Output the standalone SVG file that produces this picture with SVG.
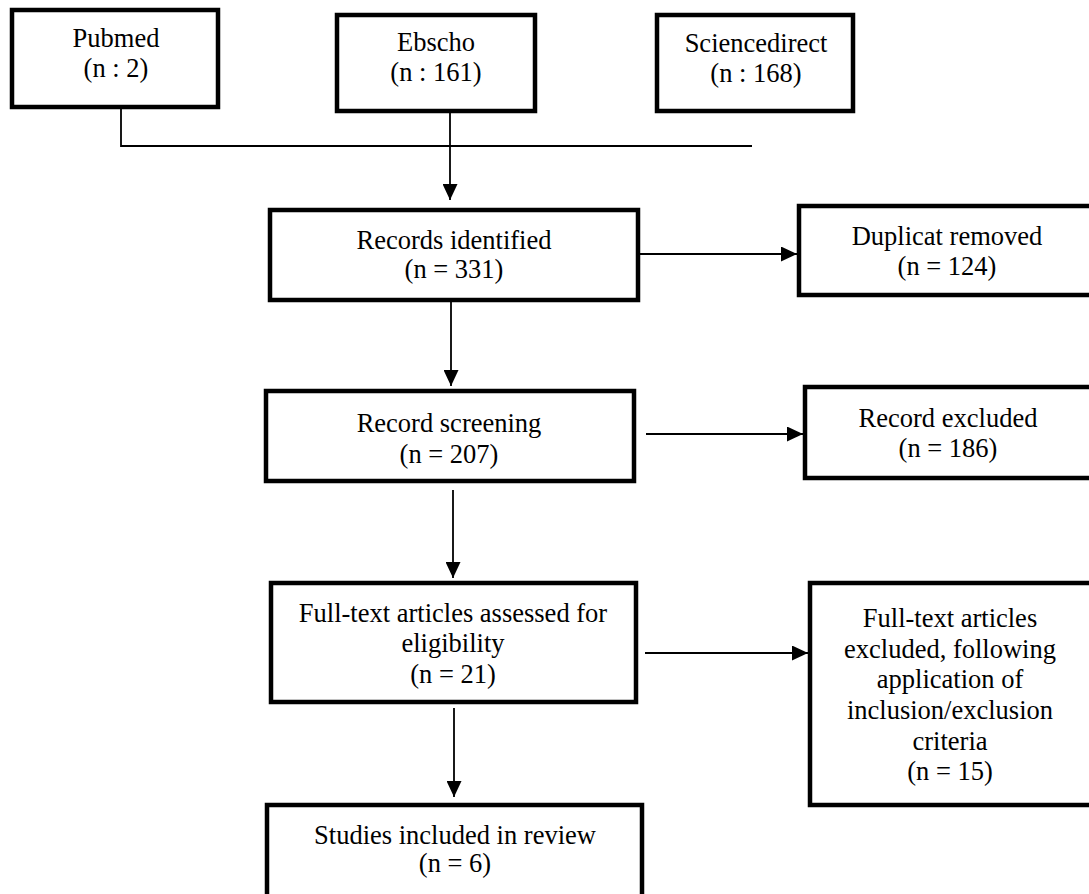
<svg xmlns="http://www.w3.org/2000/svg" width="1089" height="894" viewBox="0 0 1089 894">
<style>
.box{fill:#fff;stroke:#000;stroke-width:4.5}
.t{font-family:"Liberation Serif","Times New Roman",serif;font-size:26.5px;fill:#000;text-anchor:middle}
.ln{fill:none;stroke:#000;stroke-width:1.8}
</style>
<defs>
<marker id="ah" markerUnits="userSpaceOnUse" markerWidth="17" markerHeight="15" refX="16" refY="7.5" orient="auto">
<path d="M0,0 L16,7.5 L0,15 Z" fill="#000"/>
</marker>
</defs>
<rect width="1089" height="894" fill="#fff"/>
<g id="connectors">
<path class="ln" d="M121,109 V146 H752"/>
<path class="ln" d="M450,113 V200" marker-end="url(#ah)"/>
<path class="ln" d="M640,254 H797" marker-end="url(#ah)"/>
<path class="ln" d="M451,302 V386" marker-end="url(#ah)"/>
<path class="ln" d="M646,434 H803" marker-end="url(#ah)"/>
<path class="ln" d="M453,490 V578" marker-end="url(#ah)"/>
<path class="ln" d="M645,653 H808" marker-end="url(#ah)"/>
<path class="ln" d="M454,708 V797" marker-end="url(#ah)"/>
</g>
<g id="pubmed">
<rect class="box" x="12" y="10" width="206" height="97"/>
<text class="t" x="116" y="47">Pubmed</text>
<text class="t" x="116" y="77">(n : 2)</text>
</g>
<g id="ebscho">
<rect class="box" x="337" y="15" width="198" height="96"/>
<text class="t" x="436" y="51">Ebscho</text>
<text class="t" x="436" y="81">(n : 161)</text>
</g>
<g id="sciencedirect">
<rect class="box" x="657" y="15" width="196" height="96"/>
<text class="t" x="756" y="52">Sciencedirect</text>
<text class="t" x="756" y="82">(n : 168)</text>
</g>
<g id="records-identified">
<rect class="box" x="270" y="210" width="368" height="90"/>
<text class="t" x="454" y="249">Records identified</text>
<text class="t" x="454" y="278">(n = 331)</text>
</g>
<g id="duplicat-removed">
<rect class="box" x="799" y="206" width="300" height="89"/>
<text class="t" x="947" y="245">Duplicat removed</text>
<text class="t" x="947" y="275">(n = 124)</text>
</g>
<g id="record-screening">
<rect class="box" x="266" y="391" width="368" height="90"/>
<text class="t" x="449" y="432">Record screening</text>
<text class="t" x="449" y="463">(n = 207)</text>
</g>
<g id="record-excluded">
<rect class="box" x="805" y="387" width="300" height="91"/>
<text class="t" x="948" y="427">Record excluded</text>
<text class="t" x="948" y="457">(n = 186)</text>
</g>
<g id="fulltext-assessed">
<rect class="box" x="271" y="583" width="365" height="119"/>
<text class="t" x="453" y="622">Full-text articles assessed for</text>
<text class="t" x="453" y="652">eligibility</text>
<text class="t" x="453" y="683">(n = 21)</text>
</g>
<g id="fulltext-excluded">
<rect class="box" x="810" y="583" width="300" height="222"/>
<text class="t" x="950" y="627">Full-text articles</text>
<text class="t" x="950" y="658">excluded, following</text>
<text class="t" x="950" y="688">application of</text>
<text class="t" x="950" y="719">inclusion/exclusion</text>
<text class="t" x="950" y="750">criteria</text>
<text class="t" x="950" y="780">(n = 15)</text>
</g>
<g id="studies-included">
<rect class="box" x="267" y="805" width="375" height="100"/>
<text class="t" x="455" y="844">Studies included in review</text>
<text class="t" x="455" y="872">(n = 6)</text>
</g>
</svg>
